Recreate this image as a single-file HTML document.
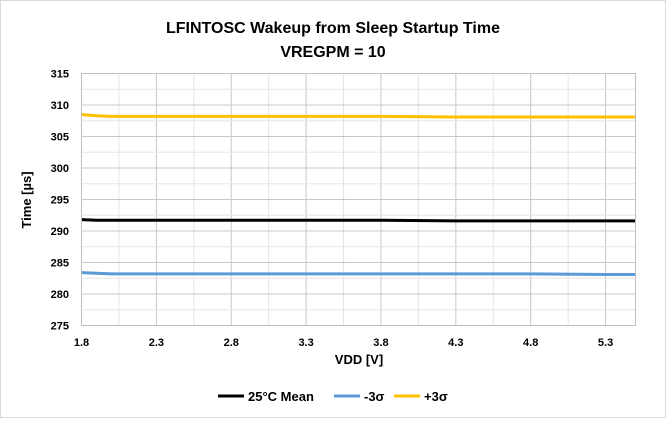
<!DOCTYPE html>
<html><head><meta charset="utf-8"><style>
body{margin:0;background:#fff;}
#wrap{position:relative;width:666px;height:418px;font-family:"Liberation Sans",sans-serif;}
text{font-family:"Liberation Sans",sans-serif;}
</style></head><body>
<div id="wrap">
<svg id="chart" width="666" height="418">
<rect x="0.5" y="0.5" width="665" height="417" fill="#fff" stroke="#d9d9d9"/>
<text x="333" y="33" text-anchor="middle" font-size="16" font-weight="bold">LFINTOSC Wakeup from Sleep Startup Time</text>
<text x="333" y="57" text-anchor="middle" font-size="16" font-weight="bold">VREGPM = 10</text>
<g id="grid"></g>
<g id="series"></g>
<g id="axes"></g>
<text x="359" y="364" text-anchor="middle" font-size="13" font-weight="bold">VDD [V]</text>
<text transform="translate(31,200) rotate(-90)" text-anchor="middle" font-size="13" font-weight="bold">Time [µs]</text>
<g>
<line x1="218" y1="396" x2="244" y2="396" stroke="#000" stroke-width="3"/>
<text x="248" y="401" font-size="13" font-weight="bold">25°C Mean</text>
<line x1="334" y1="396" x2="360" y2="396" stroke="#5b9bd5" stroke-width="3"/>
<text x="364" y="401" font-size="13" font-weight="bold">-3σ</text>
<line x1="394" y1="396" x2="420" y2="396" stroke="#ffc000" stroke-width="3"/>
<text x="424" y="401" font-size="13" font-weight="bold">+3σ</text>
</g>
</svg>
</div>
<script>
const vdd=[1.8,1.9,2.0,2.3,2.8,3.3,3.8,4.3,4.8,5.3,5.5];
const meanVals=[291.8,291.7,291.7,291.7,291.7,291.7,291.7,291.6,291.6,291.6,291.6];
const minusVals=[283.4,283.3,283.2,283.2,283.2,283.2,283.2,283.2,283.2,283.1,283.1];
const plusVals=[308.5,308.3,308.2,308.2,308.2,308.2,308.2,308.1,308.1,308.1,308.1];
const xTicks=["1.8","2.3","2.8","3.3","3.8","4.3","4.8","5.3"];
const yTicks=["275","280","285","290","295","300","305","310","315"];
const X0=81.5,X1=635.5,Y0=325.5,Y1=73.5,xmin=1.8,xmax=5.5,ymin=275,ymax=315;
const sx=v=>X0+(v-xmin)/(xmax-xmin)*(X1-X0);
const sy=v=>Y0-(v-ymin)/(ymax-ymin)*(Y0-Y1);
const NS="http://www.w3.org/2000/svg";
function mk(tag,attrs,parent){const e=document.createElementNS(NS,tag);for(const k in attrs)e.setAttribute(k,attrs[k]);parent.appendChild(e);return e;}
const grid=document.getElementById('grid'),axes=document.getElementById('axes'),ser=document.getElementById('series');
for(let i=1;xmin+i*0.25<xmax-0.01;i++){const v=xmin+i*0.25;const maj=(i%2)===0;
 const l=mk('line',{x1:sx(v),x2:sx(v),y1:Y1,y2:Y0,stroke:maj?'#c8c8c8':'#e6e6e6','stroke-width':1},grid);
 
 }
for(let i=1;ymin+i*2.5<ymax;i++){const v=ymin+i*2.5;const maj=(i%2)===0;
 const l=mk('line',{x1:X0,x2:X1,y1:sy(v),y2:sy(v),stroke:maj?'#c8c8c8':'#e6e6e6','stroke-width':1},grid);
 
 }
const fr=mk('rect',{x:X0,y:Y1,width:X1-X0,height:Y0-Y1,fill:'none',stroke:'#bfbfbf'},axes);


xTicks.forEach(t=>{const e=mk('text',{x:sx(+t),y:346,'text-anchor':'middle','font-size':11,'font-weight':'bold'},axes);e.textContent=t;
 
 });
yTicks.forEach(t=>{const e=mk('text',{x:69,y:sy(+t)+4,'text-anchor':'end','font-size':11,'font-weight':'bold'},axes);e.textContent=t;
 
 });
function line(vals,color,name){const p=mk('polyline',{points:vdd.map((x,i)=>sx(x)+','+sy(vals[i])).join(' '),fill:'none',stroke:color,'stroke-width':3,'stroke-linejoin':'round'},ser);
 
 }
line(plusVals,'#ffc000','series-plus3sigma');
line(meanVals,'#000','series-mean');
line(minusVals,'#5b9bd5','series-minus3sigma');
</script>
</body></html>
